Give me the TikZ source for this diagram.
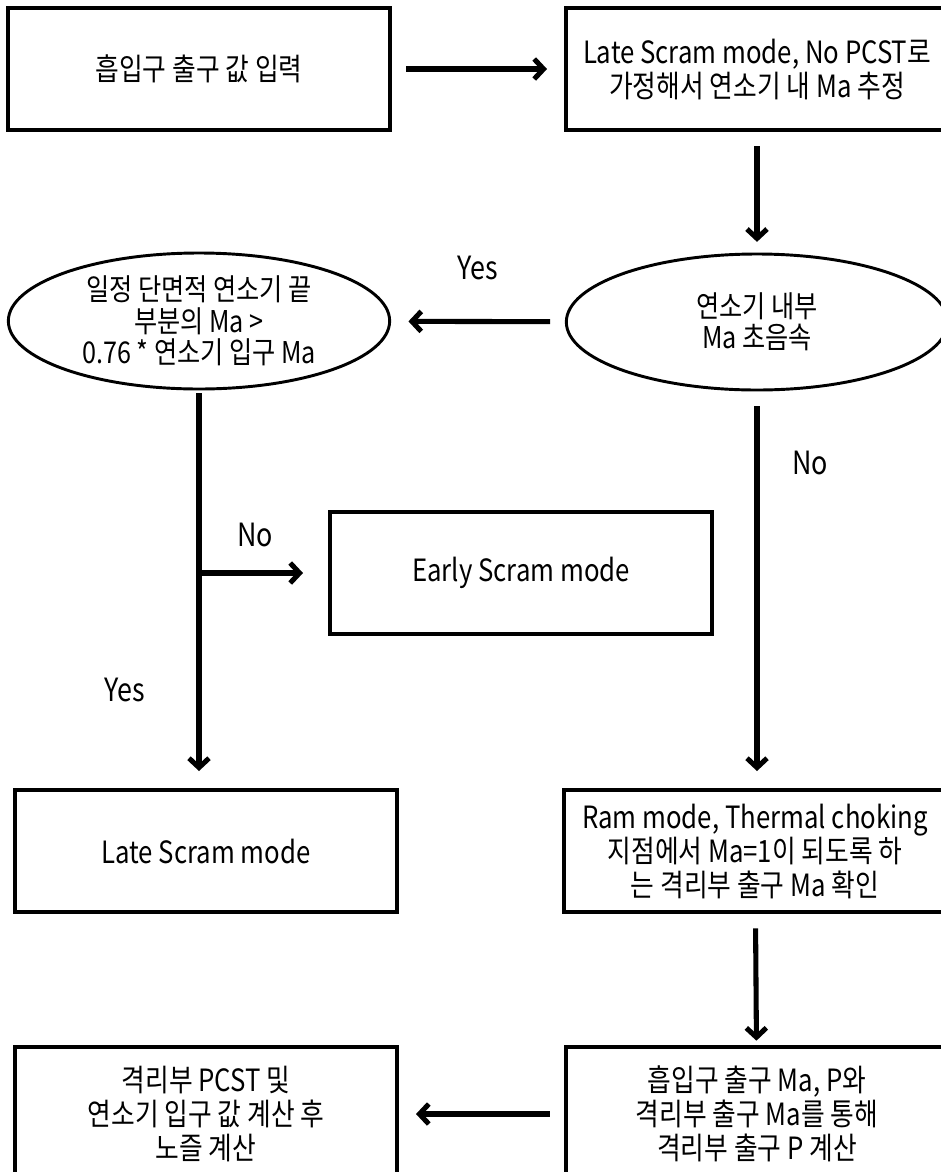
\documentclass[tikz,border=0pt]{standalone}
\usepackage{fontspec}
\setmainfont[FakeStretch=0.84]{Noto Sans CJK KR}
\usetikzlibrary{shapes.geometric,arrows.meta}

\begin{document}
\begin{tikzpicture}[x=0.75pt,y=-0.75pt,
  boxnode/.style={rectangle, draw=black, line width=3pt, minimum width=286pt, minimum height=91pt, align=center, font=\fontsize{23}{25.5}\selectfont},
  ovalnode/.style={ellipse, draw=black, line width=2.2pt, minimum width=286pt, minimum height=102pt, inner sep=0pt, align=center, font=\fontsize{22.5}{23.5}\selectfont},
  labelnode/.style={font=\fontsize{24}{25}\selectfont},
  arrow/.style={-{Straight Barb[length=7pt,width=15pt]}, line width=3.8pt, shorten <=11pt, shorten >=13pt},
]
\useasboundingbox (0,0) rectangle (940,1172);

\node[boxnode] (input) at (199,69) {흡입구 출구 값 입력};
\node[boxnode] (guess) at (757,69) {Late Scram mode, No PCST로\\가정해서 연소기 내 Ma 추정};
\node[ovalnode] (super) at (757,322) {연소기 내부\\Ma 초음속};
\node[ovalnode] (check) at (199,321) {일정 단면적 연소기 끝\\부분의 Ma >\\0.76 * 연소기 입구 Ma};
\node[boxnode] (early) at (521,573) {Early Scram mode};
\node[boxnode] (late) at (206,851) {Late Scram mode};
\node[boxnode] (ram) at (755,851) {Ram mode, Thermal choking\\지점에서 Ma=1이 되도록 하\\는 격리부 출구 Ma 확인};
\node[boxnode, minimum height=101pt] (press) at (757,1114) {흡입구 출구 Ma, P와\\격리부 출구 Ma를 통해\\격리부 출구 P 계산};
\node[boxnode, minimum height=101pt] (nozzle) at (206,1114) {격리부 PCST 및\\연소기 입구 값 계산 후\\노즐 계산};

\node[labelnode] (yes1) at (478,268) {Yes};
\node[labelnode] (no1) at (255,535) {No};
\node[labelnode] (yes2) at (125,690) {Yes};
\node[labelnode] (no2) at (810,463) {No};

\coordinate (split) at (check.south |- early.west);

\draw[arrow] (input) -- (guess);
\draw[arrow, shorten >=8pt] (guess) -- (super);
\draw[arrow] (super) -- (check);
\draw[arrow, shorten <=2pt] (check.south) -- (check.south |- late.north);
\draw[arrow, shorten <=0pt, shorten >=19pt] (split) -- (early);
\draw[arrow] (super.south) -- (super.south |- ram.north);
\draw[arrow, shorten >=3pt] (ram) -- (press);
\draw[arrow] (press) -- (nozzle);

\end{tikzpicture}
\end{document}
